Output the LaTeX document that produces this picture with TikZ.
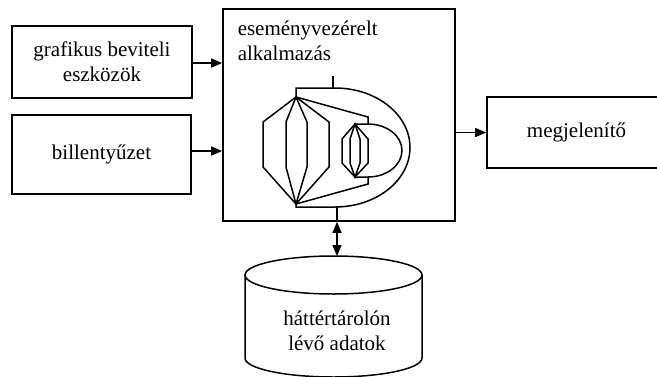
\documentclass[tikz,border=0pt]{standalone}
\usepackage{fontspec}
\setmainfont{Liberation Serif}
\usetikzlibrary{arrows.meta}
\begin{document}
\begin{tikzpicture}[x=1pt,y=-1pt,
  line width=1.5pt,
  txt/.style={font=\fontsize{21}{25}\selectfont, align=center, inner sep=0pt},
  block/.style={draw, txt, line width=1.6pt},
  flow/.style={-{Triangle[length=11pt,width=9pt]}},
  both/.style={{Triangle[length=11pt,width=9pt]}-{Triangle[length=11pt,width=9pt]}},
]
\useasboundingbox (0,0) rectangle (657,376);
\clip (0,0) rectangle (657,376);

% input devices, application frame and display
\node[block, minimum width=180pt, minimum height=72pt] (g) at (102,62)
  {grafikus beviteli\\eszközök};
\node[block, minimum width=179pt, minimum height=79pt] (b) at (101.5,154.5)
  {billentyűzet};
\node[draw, line width=1.6pt, minimum width=232pt, minimum height=212pt, inner sep=0pt] (app) at (339,115) {};
\node[txt, align=left, anchor=north west] (applbl) at (237,20)
  {eseményvezérelt\\alkalmazás};
\node[block, minimum width=179pt, minimum height=71pt] (m) at (576.5,132.5)
  {megjelenítő};

\draw[flow] ([yshift=-1pt]g.east) -- ([yshift=-1pt]g.east -| app.west);
\draw[flow] ([yshift=3.5pt]b.east) -- ([yshift=3.5pt]b.east -| app.west);
\draw[flow] (app.east |- m.west) -- (m.west);

% event-driven structure inside the application
\coordinate (T) at (296,97);
\coordinate (B) at (296,204);
\draw (T) -- (296,88) -- (335,88)
  arc[start angle=90, end angle=-90, x radius=75pt, y radius=59.5pt]
  -- (296,207) -- (B);
\draw (T) -- (263,122) -- (263,167) -- (B) -- (329,167) -- (329,122) -- cycle;
\draw (T) -- (286,122) -- (286,167) -- (B) -- (307,167) -- (307,122) -- cycle;
\draw (T) -- (368,117) -- (368,124);
\draw (B) -- (368,184) -- (368,177);
\draw (355,124) -- (368,124)
  arc[start angle=90, end angle=-90, x radius=34pt, y radius=26.5pt]
  -- (355,177);
\draw (355,124) -- (342,139) -- (342,163) -- (355,177) -- (368,163) -- (368,139) -- cycle;
\draw (355,124) -- (350,139) -- (350,163) -- (355,177) -- (360,163) -- (360,139) -- cycle;
\draw (333,76) -- (333,88);
\coordinate (D) at (337,207);
\draw (D) -- (D |- app.south);

% background storage
\draw (245,275) -- (245,358)
  arc[start angle=180, end angle=360, x radius=88.5pt, y radius=19pt]
  -- (422,275);
\draw (333.5,275) ellipse [x radius=88.5pt, y radius=19pt];
\node[txt] (db) at (337,331) {háttértárolón\\lévő adatok};
\coordinate (dbtop) at (337,256);
\draw[both] (dbtop |- app.south) -- (dbtop);
\end{tikzpicture}
\end{document}
